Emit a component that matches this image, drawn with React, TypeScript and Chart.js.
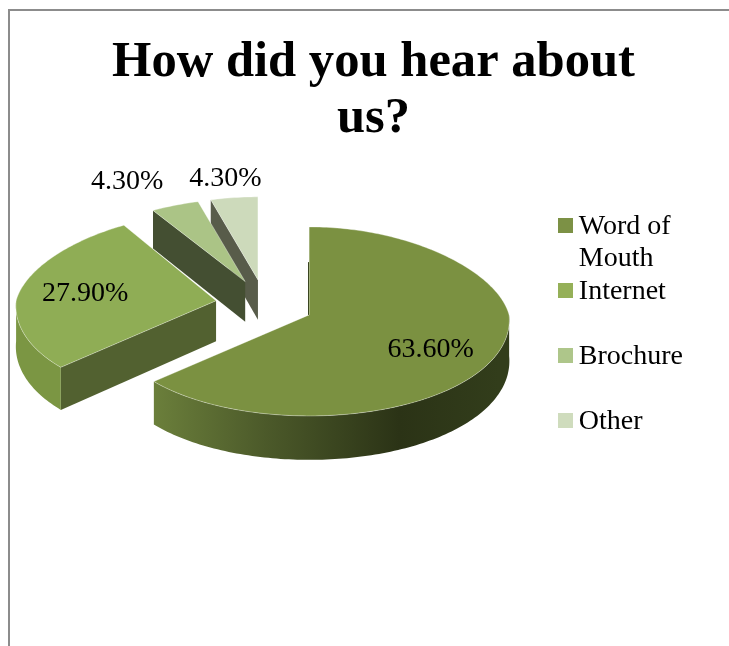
import React, { useEffect, useRef } from "react";
import { Chart, registerables } from "chart.js";

Chart.register(...registerables);

const categories = ["Word of Mouth", "Internet", "Brochure", "Other"];
const legendLines = [["Word of", "Mouth"], ["Internet", " "], ["Brochure", " "], ["Other"]];
const shares = [63.6, 27.9, 4.3, 4.3];
const topColors = ["#7b9141", "#8fad55", "#abc486", "#cddabb"];
const legendColors = ["#7c9145", "#95b058", "#aec68a", "#cfdcbd"];
const cutWallColors = ["#3a4520", "#526130", "#444f32", "#585c4a"];
const rimColor = "#7b9643";
const rimStops: [number, string][] = [
  [0, "#6b7f3b"],
  [0.31, "#4c5a2a"],
  [0.69, "#2b3316"],
  [0.97, "#323d1b"],
];
const paintOrder = [3, 2, 1, 0];
const labelReach = [0.68, 0.66, 1.2, 1.2];
const labelNudge = [[-5, 6], [-3, 2], [-34, -8], [-4, -2]];

const FONT = '"Liberation Serif", serif';
const RADIUS = 200;
const PIE_X = 264.5;
const PIE_Y = 304.6;
const EXPLODE_X = 49;
const EXPLODE_Y = 25;
const SQUASH_FRONT = 0.505;
const SQUASH_BACK = 0.44;
const SQUASH_FAR = 0.415;
const SWATCH = 15;

// Depth of the extruded rim grows slightly toward the viewer.
const depthAt = (y: number) => 40 + (y - 280) * 0.029;

function projector(arc: any) {
  const mid = (arc.startAngle + arc.endAngle) / 2;
  const ax = PIE_X + EXPLODE_X * Math.cos(mid);
  const ay = PIE_Y + EXPLODE_Y * Math.sin(mid);
  // Wedges pushed furthest back foreshorten more.
  const back = ay < 290 ? SQUASH_FAR : SQUASH_BACK;
  return (angle: number, reach = 1) => {
    const c = Math.cos(angle);
    const s = Math.sin(angle);
    const k = s < 0 ? 1 + 0.12 * s : 1 + 0.05 * s;
    const sy = s < 0 ? back : SQUASH_FRONT;
    return { x: ax + arc.outerRadius * reach * c * k, y: ay + arc.outerRadius * reach * s * sy };
  };
}

function rimPoints(project: (a: number, r?: number) => { x: number; y: number }, from: number, to: number) {
  const pts = [];
  const steps = Math.max(2, Math.ceil((to - from) / 0.02));
  for (let i = 0; i <= steps; i++) pts.push(project(from + ((to - from) * i) / steps));
  return pts;
}

function tracePolygon(ctx: CanvasRenderingContext2D, pts: { x: number; y: number }[]) {
  ctx.beginPath();
  pts.forEach((p, i) => (i ? ctx.lineTo(p.x, p.y) : ctx.moveTo(p.x, p.y)));
  ctx.closePath();
}

const extruded = (p: { x: number; y: number }) => ({ x: p.x, y: p.y + depthAt(p.y) });

// Paints the arcs the doughnut controller laid out as tilted, extruded wedges.
const tiltedPie = {
  id: "tiltedPie",
  beforeDatasetDraw(chart: any) {
    const ctx: CanvasRenderingContext2D = chart.ctx;
    const arcs = chart.getDatasetMeta(0).data;
    for (const i of paintOrder) {
      const arc = arcs[i];
      const project = projector(arc);
      const apex = project(0, 0);
      const start = arc.startAngle;
      const end = arc.endAngle;
      ctx.save();

      // Cut face along the leading edge, when it turns toward the viewer.
      if (Math.cos(start) < -1e-6) {
        const edge = project(start);
        tracePolygon(ctx, [apex, edge, extruded(edge), extruded(apex)]);
        ctx.fillStyle = cutWallColors[i];
        ctx.fill();
      }

      // Outer rim on the front half of the ellipse.
      const from = Math.max(start, 0);
      const to = Math.min(end, Math.PI);
      if (to > from) {
        const rim = rimPoints(project, from, to);
        tracePolygon(ctx, [...rim, ...rim.slice().reverse().map(extruded)]);
        if (i === 0) {
          const xs = rim.map((p) => p.x);
          const grad = ctx.createLinearGradient(Math.min(...xs), 0, Math.max(...xs), 0);
          rimStops.forEach(([t, c]) => grad.addColorStop(t, c));
          ctx.fillStyle = grad;
        } else {
          ctx.fillStyle = rimColor;
        }
        ctx.fill();
      }

      // Top face.
      tracePolygon(ctx, [apex, ...rimPoints(project, start, end)]);
      ctx.fillStyle = arc.options.backgroundColor;
      ctx.fill();
      ctx.strokeStyle = "rgba(255,255,255,0.45)";
      ctx.lineWidth = 0.75;
      ctx.stroke();

      // Hairline where the largest wedge's back edge shows its cut.
      if (i === 0) {
        const seam = project(start, 0.6);
        const lineX = Math.round(apex.x) - 0.5;
        ctx.beginPath();
        ctx.moveTo(lineX, seam.y);
        ctx.lineTo(lineX, apex.y);
        ctx.strokeStyle = cutWallColors[0];
        ctx.lineWidth = 1;
        ctx.stroke();
      }

      ctx.restore();
    }

    // Value labels.
    ctx.save();
    ctx.font = `28px ${FONT}`;
    ctx.fillStyle = "#000";
    ctx.textAlign = "center";
    ctx.textBaseline = "middle";
    arcs.forEach((arc: any, i: number) => {
      const p = projector(arc)((arc.startAngle + arc.endAngle) / 2, labelReach[i]);
      ctx.fillText(`${shares[i].toFixed(2)}%`, p.x + labelNudge[i][0], p.y + labelNudge[i][1]);
    });
    ctx.restore();
    return false;
  },
  // Swatches sit closer to the text than the legend's font-based gap allows,
  // so they are painted next to the legend's own item boxes.
  afterDraw(chart: any) {
    const ctx: CanvasRenderingContext2D = chart.ctx;
    chart.legend.legendHitBoxes.forEach((hit: any, i: number) => {
      ctx.fillStyle = legendColors[i];
      ctx.fillRect(Math.round(hit.left) - 7, Math.round(hit.top) + 6, SWATCH, SWATCH);
    });
  },
};

export default function App() {
  const ref = useRef<HTMLCanvasElement>(null);
  useEffect(() => {
    const chart = new Chart(ref.current!, {
      type: "pie",
      data: {
        labels: categories,
        datasets: [{ data: shares, backgroundColor: topColors, borderWidth: 0, radius: RADIUS }],
      },
      plugins: [tiltedPie],
      options: {
        responsive: false,
        animation: false,
        layout: { padding: { left: 54, top: 35, right: 36, bottom: 29 } },
        plugins: {
          tooltip: { enabled: false },
          title: {
            display: true,
            text: ["How did you hear about", "us?"],
            color: "#000",
            font: { family: FONT, size: 50.6, weight: "bold", lineHeight: 56 / 50.6 },
            padding: { top: 0, bottom: 0 },
          },
          legend: {
            position: "right",
            align: "center",
            labels: {
              color: "#000",
              font: { family: FONT, size: 28, lineHeight: 32.5 / 28 },
              usePointStyle: true,
              boxWidth: 0.01,
              boxHeight: 1,
              padding: 0,
              generateLabels: () =>
                legendLines.map((text, i) => ({
                  text,
                  fillStyle: "transparent",
                  strokeStyle: "transparent",
                  lineWidth: 0,
                  pointStyle: "rect",
                  index: i,
                })) as any,
            },
          },
        },
      },
    } as any);
    return () => chart.destroy();
  }, []);

  return (
    <div style={{ position: "fixed", inset: 0, background: "#fff", overflow: "hidden" }}>
      <div
        style={{
          position: "absolute",
          left: 8,
          top: 9,
          right: 0,
          bottom: 0,
          borderLeft: "2px solid #8c8c8c",
          borderTop: "2px solid #8c8c8c",
        }}
      />
      <canvas ref={ref} width={729} height={646} style={{ position: "absolute", left: 0, top: 0 }} />
    </div>
  );
}
